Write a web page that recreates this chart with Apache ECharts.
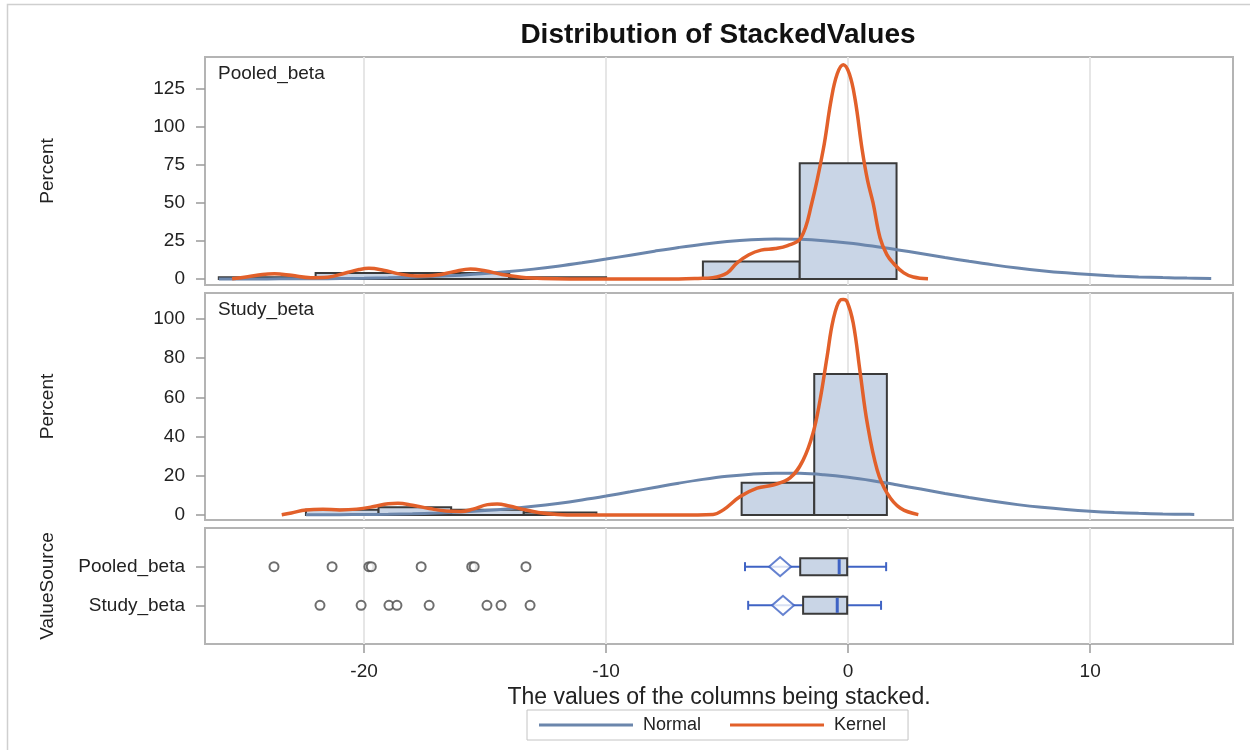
<!DOCTYPE html>
<html><head><meta charset="utf-8">
<script src="https://cdn.jsdelivr.net/npm/echarts@6/dist/echarts.min.js"></script>
<style>html,body{margin:0;padding:0;background:#fff}#c{width:1250px;height:750px}</style>
</head><body><div id="c"></div><script>
// ---------------- data ----------------
const xTicks = [-20, -10, 0, 10];
const pooledTicks = [0, 25, 50, 75, 100, 125];
const studyTicks = [0, 20, 40, 60, 80, 100];
const valueSources = ['Pooled_beta', 'Study_beta'];

const pooledBinCenters = [-24, -20, -16, -12, -8, -4, 0];
const pooledBinPct = [1.2, 3.9, 3.9, 1.2, 0, 11.5, 76.2];
const pooledBinWidth = 4;

const studyBinCenters = [-20.9, -17.9, -14.9, -11.9, -8.9, -5.9, -2.9, 0.1];
const studyBinPct = [2.7, 4.0, 2.7, 1.3, 0, 0, 16.5, 72.0];
const studyBinWidth = 3;

const pooledNormalX = [-26,-25,-24,-23,-22,-21,-20,-19,-18,-17,-16,-15,-14,-13,-12,-11,-10,-9,-8,-7,-6,-5,-4,-3,-2,-1,0,1,2,3,4,5,6,7,8,9,10,11,12,13,14,15];
const pooledNormalPct = [0.02,0.035,0.06,0.11,0.19,0.31,0.49,0.77,1.18,1.75,2.53,3.56,4.88,6.50,8.43,10.66,13.11,15.69,18.29,20.75,22.92,24.64,25.80,26.29,26.07,25.18,23.67,21.66,19.30,16.74,14.13,11.61,9.29,7.24,5.49,4.05,2.91,2.04,1.39,0.92,0.59,0.37];

const studyNormalX = [-22.4,-22,-21,-20,-19,-18,-17,-16,-15,-14,-13,-12,-11,-10,-9,-8,-7,-6,-5,-4,-3,-2,-1,0,1,2,3,4,5,6,7,8,9,10,11,12,13,14,14.3];
const studyNormalPct = [0.07,0.08,0.15,0.25,0.41,0.66,1.02,1.54,2.25,3.20,4.41,5.90,7.67,9.67,11.84,14.07,16.24,18.18,19.77,20.86,21.37,21.25,20.51,19.22,17.48,15.43,13.23,11.00,8.89,6.97,5.30,3.91,2.81,1.95,1.32,0.87,0.55,0.34,0.29];

const pooledKernelX = [-25.45,-24.8,-24.2,-23.7,-23.0,-22.2,-21.5,-20.8,-20.2,-19.8,-19.2,-18.5,-17.8,-17.0,-16.3,-15.6,-15.0,-14.3,-13.5,-12.6,-11.5,-9,-7,-6.2,-5.6,-5.0,-4.6,-4.1,-3.6,-3.0,-2.5,-1.95,-1.5,-1.03,-0.7,-0.45,-0.2,0.05,0.29,0.58,0.8,1.03,1.32,1.6,1.86,2.3,2.69,3.3];
const pooledKernelPct = [0.1,1.5,3.0,3.4,2.4,0.9,1.2,3.8,6.2,7.0,5.8,3.2,2.0,2.6,4.8,6.6,5.4,3.0,1.2,0.3,0,0,0.05,0.4,0.9,4,10.5,16,19,20,22,27,50,85,118,135,141,135,118,85,65,50,27,16,10.5,4,1.3,0.1];

const studyKernelX = [-23.4,-23.0,-22.4,-21.7,-21.0,-20.3,-19.6,-19.0,-18.6,-18.0,-17.3,-16.6,-16.0,-15.5,-14.9,-14.5,-14.0,-13.4,-12.8,-12.0,-11.2,-9,-7,-5.58,-5.17,-4.46,-3.76,-3.1,-2.4,-1.86,-1.45,-1.16,-0.87,-0.62,-0.33,-0.2,-0.04,0.21,0.5,0.79,1.2,1.61,2.15,2.9];
const studyKernelPct = [0.1,1.0,2.6,2.9,2.6,3.0,4.3,5.8,6.0,5.0,3.3,2.0,1.8,3.0,5.3,5.6,4.6,2.8,1.3,0.3,0,0,0,0.3,2.5,9.4,13.7,15.3,18.9,28,41.8,58.7,80.8,99.5,109.7,110,108.8,98,72.4,46.9,23,11.2,3.6,0.2];

const boxWhiskerLow = [-4.26, -4.13];
const boxQ1 = [-1.98, -1.86];
const boxMedian = [-0.37, -0.45];
const boxQ3 = [-0.04, -0.04];
const boxWhiskerHigh = [1.57, 1.36];
const boxMean = [-2.81, -2.69];
const pooledOutliers = [-23.72, -21.32, -19.80, -19.70, -17.64, -15.55, -15.45, -13.31];
const studyOutliers = [-21.82, -20.12, -18.97, -18.64, -17.31, -14.92, -14.34, -13.14];

// ---------------- styling ----------------
const FONT = 'Liberation Sans, Arial, Helvetica, sans-serif';
const X_MIN = -26.57, X_MAX = 15.9;
const BAR_FILL = '#c9d5e6', BAR_EDGE = '#3a3a3a';
const NORMAL_C = '#6b86ac', KERNEL_C = '#e2602a', BOX_BLUE = '#3f63c4';
const GRID_BORDER = '#b4b4b4', TICK_C = '#9a9a9a', LABEL_C = '#222';
const TICK_FS = 19;

const zip = (xs, ys) => xs.map((x, i) => [x, ys[i]]);
const bins = (centers, pct, w) => centers.map((c, i) => [c - w / 2, c + w / 2, pct[i]]);

function barItem(params, api) {
  const h = api.value(2);
  if (!h) return null;
  const p0 = api.coord([api.value(0), h]);
  const p1 = api.coord([api.value(1), 0]);
  return { type: 'rect', shape: { x: p0[0], y: p0[1], width: p1[0] - p0[0], height: p1[1] - p0[1] },
    style: { fill: BAR_FILL, stroke: BAR_EDGE, lineWidth: 2 } };
}

function boxItem(params, api) {
  const y = api.value(0);
  const lo = api.coord([api.value(1), y]);
  const q1 = api.coord([api.value(2), y]);
  const md = api.coord([api.value(3), y]);
  const q3 = api.coord([api.value(4), y]);
  const hi = api.coord([api.value(5), y]);
  const half = 8.5, cap = 4.5, cy = lo[1];
  const ws = { stroke: BOX_BLUE, lineWidth: 2 };
  return { type: 'group', children: [
    { type: 'line', shape: { x1: lo[0], y1: cy, x2: q1[0], y2: cy }, style: ws },
    { type: 'line', shape: { x1: q3[0], y1: cy, x2: hi[0], y2: cy }, style: ws },
    { type: 'line', shape: { x1: lo[0], y1: cy - cap, x2: lo[0], y2: cy + cap }, style: ws },
    { type: 'line', shape: { x1: hi[0], y1: cy - cap, x2: hi[0], y2: cy + cap }, style: ws },
    { type: 'rect', shape: { x: q1[0], y: cy - half, width: q3[0] - q1[0], height: 2 * half },
      style: { fill: BAR_FILL, stroke: BAR_EDGE, lineWidth: 2 } },
    { type: 'line', shape: { x1: md[0], y1: cy - half + 1, x2: md[0], y2: cy + half - 1 }, style: { stroke: BOX_BLUE, lineWidth: 3 } }
  ] };
}

const xAxisBase = (i, showLabels) => ({
  type: 'value', gridIndex: i, min: X_MIN, max: X_MAX,
  axisLine: { show: false, onZero: false },
  axisTick: { show: showLabels, length: 9, lineStyle: { color: TICK_C, width: 1.5 }, customValues: xTicks },
  axisLabel: { show: showLabels, customValues: xTicks, margin: 18, fontSize: TICK_FS, color: LABEL_C, fontFamily: FONT },
  splitLine: { show: true, lineStyle: { color: '#e6e6e6', width: 2 } }
});

const yAxisBase = (i, min, max, ticks, name) => ({
  type: 'value', gridIndex: i, min: min, max: max,
  axisLine: { show: false, onZero: false },
  axisTick: { show: true, length: 9, lineStyle: { color: TICK_C, width: 1.5 }, customValues: ticks },
  axisLabel: { customValues: ticks, margin: 20, fontSize: TICK_FS, color: LABEL_C, fontFamily: FONT },
  splitLine: { show: false },
  name: name, nameLocation: 'middle', nameGap: 148,
  nameTextStyle: { fontSize: 19, color: LABEL_C, fontFamily: FONT }
});

const lineSeries = (name, data, xi, color, width, z) => ({
  name: name, type: 'line', xAxisIndex: xi, yAxisIndex: xi, data: data,
  showSymbol: false, smooth: 0.4, z: z,
  lineStyle: { color: color, width: width }, itemStyle: { color: color }
});

const option = {
  animation: false,
  backgroundColor: '#fff',
  textStyle: { fontFamily: FONT },
  grid: [
    { left: 205, top: 57, width: 1028, height: 228, show: true, borderColor: GRID_BORDER, borderWidth: 2, backgroundColor: 'transparent', outerBoundsMode: 'none' },
    { left: 205, top: 293, width: 1028, height: 227, show: true, borderColor: GRID_BORDER, borderWidth: 2, backgroundColor: 'transparent', outerBoundsMode: 'none' },
    { left: 205, top: 528, width: 1028, height: 116, show: true, borderColor: GRID_BORDER, borderWidth: 2, backgroundColor: 'transparent', outerBoundsMode: 'none' }
  ],
  xAxis: [
    xAxisBase(0, false),
    xAxisBase(1, false),
    Object.assign(xAxisBase(2, true), {
      name: 'The values of the columns being stacked.', nameLocation: 'middle', nameGap: 42,
      nameTextStyle: { fontSize: 23, color: LABEL_C, fontFamily: FONT }
    })
  ],
  yAxis: [
    yAxisBase(0, -3.95, 146.05, pooledTicks, 'Percent'),
    yAxisBase(1, -2.55, 113.3, studyTicks, 'Percent'),
    Object.assign(yAxisBase(2, 0, 3, [1, 2], 'ValueSource'), {
      inverse: true,
      axisLabel: { customValues: [1, 2], margin: 20, fontSize: TICK_FS, color: LABEL_C, fontFamily: FONT,
        formatter: v => valueSources[Math.round(v) - 1] || '' }
    })
  ],
  legend: {
    data: ['Normal', 'Kernel'], icon: 'rect', itemWidth: 94, itemHeight: 3, itemGap: 29,
    left: 527, top: 710, borderColor: '#c4c4c4', borderWidth: 1, padding: [6, 22, 6, 12],
    textStyle: { fontSize: 18, color: LABEL_C, fontFamily: FONT, padding: [0, 0, 0, 5] }
  },
  graphic: [
    { type: 'rect', silent: true, z: -10, shape: { x: 7.5, y: 4.5, width: 1260, height: 760 },
      style: { fill: 'none', stroke: '#cfcfcf', lineWidth: 1.5 } },
    { type: 'text', x: 718, y: 35, silent: true,
      style: { text: 'Distribution of StackedValues', align: 'center', verticalAlign: 'middle',
        font: 'bold 28px ' + FONT, fill: '#111' } },
    { type: 'text', x: 218, y: 74, silent: true,
      style: { text: valueSources[0], align: 'left', verticalAlign: 'middle', font: TICK_FS + 'px ' + FONT, fill: LABEL_C } },
    { type: 'text', x: 218, y: 310, silent: true,
      style: { text: valueSources[1], align: 'left', verticalAlign: 'middle', font: TICK_FS + 'px ' + FONT, fill: LABEL_C } }
  ],
  series: [
    { type: 'custom', name: 'PooledHist', xAxisIndex: 0, yAxisIndex: 0, renderItem: barItem,
      encode: { x: [0, 1], y: 2 }, data: bins(pooledBinCenters, pooledBinPct, pooledBinWidth), z: 2 },
    lineSeries('Normal', zip(pooledNormalX, pooledNormalPct), 0, NORMAL_C, 3, 3),
    lineSeries('Kernel', zip(pooledKernelX, pooledKernelPct), 0, KERNEL_C, 3.5, 4),
    { type: 'custom', name: 'StudyHist', xAxisIndex: 1, yAxisIndex: 1, renderItem: barItem,
      encode: { x: [0, 1], y: 2 }, data: bins(studyBinCenters, studyBinPct, studyBinWidth), z: 2 },
    lineSeries('Normal', zip(studyNormalX, studyNormalPct), 1, NORMAL_C, 3, 3),
    lineSeries('Kernel', zip(studyKernelX, studyKernelPct), 1, KERNEL_C, 3.5, 4),
    { type: 'custom', name: 'Box', xAxisIndex: 2, yAxisIndex: 2, renderItem: boxItem, z: 2,
      encode: { x: [1, 2, 3, 4, 5], y: 0 },
      data: valueSources.map((s, i) => [i + 1, boxWhiskerLow[i], boxQ1[i], boxMedian[i], boxQ3[i], boxWhiskerHigh[i]]) },
    { type: 'scatter', name: 'Mean', xAxisIndex: 2, yAxisIndex: 2, z: 4,
      symbol: 'emptyDiamond', symbolSize: [22, 19],
      itemStyle: { color: BOX_BLUE, borderColor: BOX_BLUE, borderWidth: 2 },
      data: boxMean.map((m, i) => [m, i + 1]) },
    { type: 'scatter', name: 'Outliers', xAxisIndex: 2, yAxisIndex: 2, z: 4,
      symbol: 'emptyCircle', symbolSize: 9,
      itemStyle: { color: '#4a4a4a', borderColor: '#4a4a4a', borderWidth: 2 },
      data: pooledOutliers.map(v => [v, 1]).concat(studyOutliers.map(v => [v, 2])) }
  ]
};

const chart = echarts.init(document.getElementById('c'), null, { renderer: 'canvas' });
chart.setOption(option);
</script></body></html>
